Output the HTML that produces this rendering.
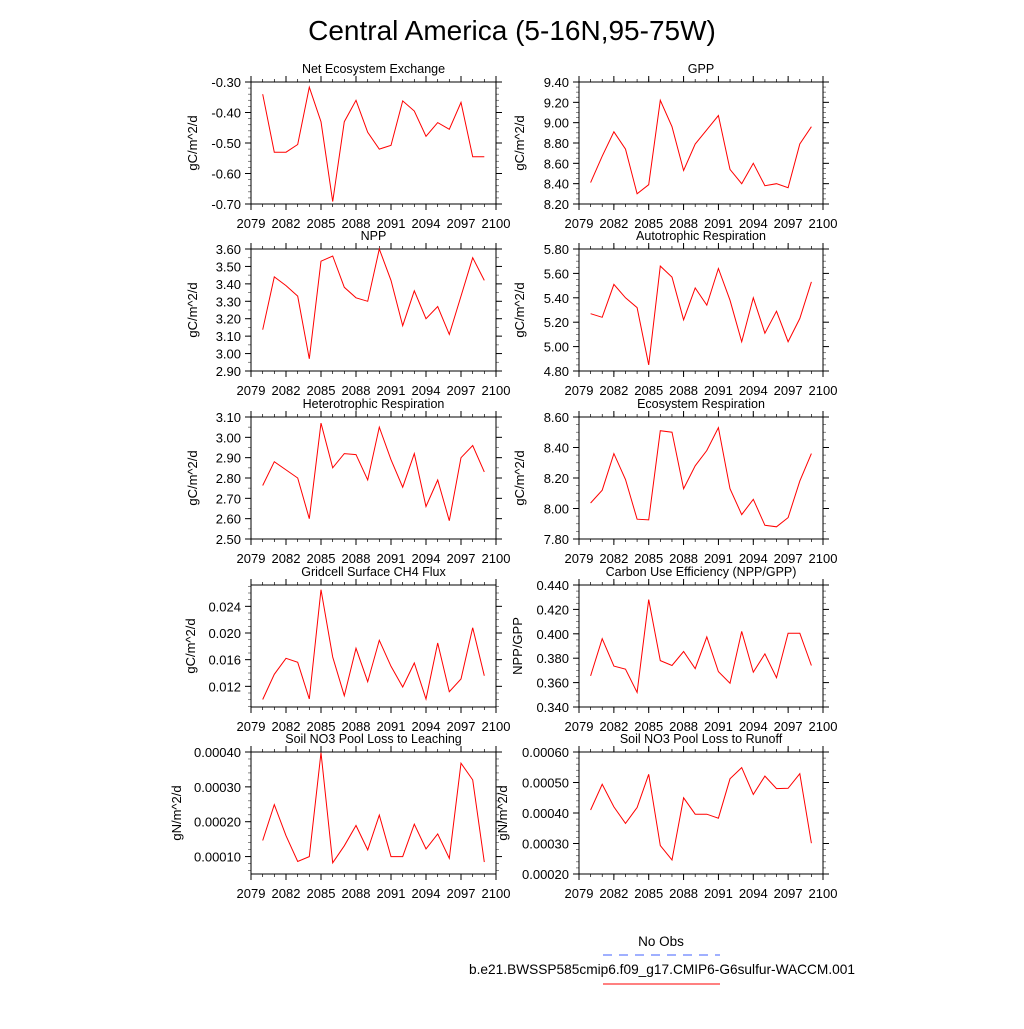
<!DOCTYPE html>
<html><head><meta charset="utf-8"><style>
body{margin:0;background:#fff}
svg text{font-family:"Liberation Sans",sans-serif;fill:#000}
</style></head><body>
<svg id="fig" width="1024" height="1024" viewBox="0 0 1024 1024" xmlns="http://www.w3.org/2000/svg">
<text x="512" y="40" font-size="28" text-anchor="middle">Central America (5-16N,95-75W)</text>
<g>
<text x="661" y="946" font-size="13.5" text-anchor="middle">No Obs</text>
<line x1="603" y1="955" x2="720" y2="955" stroke="#4060ff" stroke-width="1" stroke-dasharray="9,7"/>
<text x="662" y="974" font-size="13.7" text-anchor="middle">b.e21.BWSSP585cmip6.f09_g17.CMIP6-G6sulfur-WACCM.001</text>
<line x1="603" y1="984" x2="720" y2="984" stroke="#f00" stroke-width="1"/>
</g>
</svg>
<script>
const years=[2080,2081,2082,2083,2084,2085,2086,2087,2088,2089,2090,2091,2092,2093,2094,2095,2096,2097,2098,2099];
const xTicks=[2079,2082,2085,2088,2091,2094,2097,2100];
const neeVals=[-0.34,-0.53,-0.53,-0.505,-0.317,-0.43,-0.692,-0.43,-0.36,-0.465,-0.52,-0.508,-0.362,-0.395,-0.478,-0.433,-0.455,-0.367,-0.545,-0.545];
const gppVals=[8.41,8.67,8.91,8.74,8.30,8.39,9.22,8.96,8.53,8.79,8.93,9.07,8.54,8.40,8.60,8.38,8.40,8.36,8.79,8.96];
const nppVals=[3.137,3.44,3.39,3.33,2.97,3.53,3.56,3.38,3.32,3.30,3.60,3.42,3.16,3.36,3.20,3.27,3.11,3.33,3.55,3.42];
const arVals=[5.27,5.24,5.51,5.40,5.32,4.85,5.66,5.57,5.22,5.48,5.34,5.64,5.38,5.04,5.40,5.11,5.29,5.04,5.23,5.53];
const hrVals=[2.763,2.88,2.84,2.80,2.60,3.07,2.85,2.92,2.915,2.79,3.05,2.89,2.755,2.92,2.66,2.79,2.59,2.90,2.96,2.83];
const erVals=[8.036,8.12,8.36,8.19,7.93,7.925,8.51,8.50,8.13,8.28,8.38,8.53,8.13,7.96,8.06,7.89,7.88,7.94,8.18,8.36];
const ch4Vals=[0.01002,0.0138,0.0162,0.0156,0.0101,0.0265,0.0164,0.0106,0.0177,0.0127,0.0189,0.0150,0.0119,0.0155,0.0101,0.0185,0.0112,0.0131,0.0208,0.0136];
const cueVals=[0.3655,0.396,0.3735,0.371,0.352,0.428,0.378,0.374,0.3855,0.3715,0.3975,0.369,0.3595,0.402,0.3685,0.3835,0.364,0.4005,0.4005,0.374];
const leachVals=[0.000146,0.000249,0.00016,0.000086,0.0001,0.000398,0.000082,0.000131,0.000189,0.000119,0.000219,0.0001,0.0001,0.000193,0.000122,0.000165,0.000095,0.000368,0.00032,0.000084];
const runoffVals=[0.00041,0.000494,0.00042,0.000366,0.000418,0.000527,0.000293,0.000246,0.00045,0.000396,0.000396,0.000383,0.000512,0.000549,0.000461,0.000521,0.00048,0.000481,0.000529,0.000301];
const nee_ticks=[-0.70,-0.60,-0.50,-0.40,-0.30];
const gpp_ticks=[8.20,8.40,8.60,8.80,9.00,9.20,9.40];
const npp_ticks=[2.90,3.00,3.10,3.20,3.30,3.40,3.50,3.60];
const ar_ticks=[4.80,5.00,5.20,5.40,5.60,5.80];
const hr_ticks=[2.50,2.60,2.70,2.80,2.90,3.00,3.10];
const er_ticks=[7.80,8.00,8.20,8.40,8.60];
const ch4_ticks=[0.012,0.016,0.020,0.024];
const cue_ticks=[0.340,0.360,0.380,0.400,0.420,0.440];
const leach_ticks=[0.00010,0.00020,0.00030,0.00040];
const runoff_ticks=[0.00020,0.00030,0.00040,0.00050,0.00060];

const NS='http://www.w3.org/2000/svg';
const svg=document.getElementById('fig');
function mk(tag,attrs,parent){const e=document.createElementNS(NS,tag);for(const k in attrs)e.setAttribute(k,attrs[k]);parent.appendChild(e);return e;}
const rowsY=[82,249,417,585,752];
const colsX=[[251,496],[579,823]];
const H=122;
const panels=[
 {n:'nee',t:'Net Ecosystem Exchange',d:neeVals,tk:nee_ticks,mn:-0.70,mx:-0.30,dec:2,yt:'gC/m^2/d',ytx:197,minor:5},
 {n:'gpp',t:'GPP',d:gppVals,tk:gpp_ticks,mn:8.20,mx:9.40,dec:2,yt:'gC/m^2/d',ytx:524,minor:4},
 {n:'npp',t:'NPP',d:nppVals,tk:npp_ticks,mn:2.90,mx:3.60,dec:2,yt:'gC/m^2/d',ytx:197,minor:2},
 {n:'ar',t:'Autotrophic Respiration',d:arVals,tk:ar_ticks,mn:4.80,mx:5.80,dec:2,yt:'gC/m^2/d',ytx:524,minor:4},
 {n:'hr',t:'Heterotrophic Respiration',d:hrVals,tk:hr_ticks,mn:2.50,mx:3.10,dec:2,yt:'gC/m^2/d',ytx:197,minor:2},
 {n:'er',t:'Ecosystem Respiration',d:erVals,tk:er_ticks,mn:7.80,mx:8.60,dec:2,yt:'gC/m^2/d',ytx:524,minor:4},
 {n:'ch4',t:'Gridcell Surface CH4 Flux',d:ch4Vals,tk:ch4_ticks,mn:0.0089,mx:0.0272,dec:3,yt:'gC/m^2/d',ytx:195,minor:4},
 {n:'cue',t:'Carbon Use Efficiency (NPP/GPP)',d:cueVals,tk:cue_ticks,mn:0.340,mx:0.440,dec:3,yt:'NPP/GPP',ytx:522,minor:4},
 {n:'leach',t:'Soil NO3 Pool Loss to Leaching',d:leachVals,tk:leach_ticks,mn:0.00005,mx:0.00040,dec:5,yt:'gN/m^2/d',ytx:181,minor:5},
 {n:'runoff',t:'Soil NO3 Pool Loss to Runoff',d:runoffVals,tk:runoff_ticks,mn:0.00020,mx:0.00060,dec:5,yt:'gN/m^2/d',ytx:507,minor:5}
];
panels.forEach((p,i)=>{
 const r=Math.floor(i/2),c=i%2;
 const top=rowsY[r],bot=top+H,L=colsX[c][0],R=colsX[c][1];
 const xs=v=>L+(v-2079)/(2100-2079)*(R-L);
 const ys=v=>bot-(v-p.mn)/(p.mx-p.mn)*H;
 const g=mk('g',{},svg);
 
 
 const tt=mk('text',{x:(L+R)/2,y:top-9,'font-size':12.5,'text-anchor':'middle'},g);tt.textContent=p.t;
 
 
 for(let y=2079;y<=2100;y++){
  mk('line',{x1:xs(y),x2:xs(y),y1:bot,y2:bot+3,stroke:'#000','stroke-width':0.7},g);
  mk('line',{x1:xs(y),x2:xs(y),y1:top,y2:top-3,stroke:'#000','stroke-width':0.7},g);
 }
 xTicks.forEach(v=>{
  mk('line',{x1:xs(v),x2:xs(v),y1:bot,y2:bot+6,stroke:'#000','stroke-width':1},g);
  mk('line',{x1:xs(v),x2:xs(v),y1:top,y2:top-6,stroke:'#000','stroke-width':1},g);
  const t=mk('text',{x:xs(v),y:bot+24,'font-size':13,'text-anchor':'middle'},g);t.textContent=v;
  
  
 });
 const step=p.tk[1]-p.tk[0];
 const ms=step/p.minor;
 for(let v=p.tk[0]-step;v<=p.mx+1e-12;v+=ms){
  if(v<p.mn-1e-12)continue;
  mk('line',{x1:L,x2:L-3,y1:ys(v),y2:ys(v),stroke:'#555','stroke-width':0.7},g);
  mk('line',{x1:R,x2:R+3,y1:ys(v),y2:ys(v),stroke:'#555','stroke-width':0.7},g);
 }
 p.tk.forEach(v=>{
  mk('line',{x1:L-6,x2:L,y1:ys(v),y2:ys(v),stroke:'#000','stroke-width':1},g);
  mk('line',{x1:R,x2:R+6,y1:ys(v),y2:ys(v),stroke:'#000','stroke-width':1},g);
  const t=mk('text',{x:L-10,y:ys(v)+5,'font-size':13,'text-anchor':'end'},g);t.textContent=v.toFixed(p.dec);
  
  
 });
 const fr=mk('rect',{x:L,y:top,width:R-L,height:H,fill:'none',stroke:'#000','stroke-width':1},g);
 
 
 const cy=(top+bot)/2;
 const yt=mk('text',{x:p.ytx,y:cy,'font-size':13,'text-anchor':'middle',transform:`rotate(-90 ${p.ytx} ${cy})`},g);yt.textContent=p.yt;
 
 
 const pts=p.d.map((v,k)=>xs(years[k]).toFixed(1)+','+ys(v).toFixed(1)).join(' ');
 const pl=mk('polyline',{points:pts,fill:'none',stroke:'#f00','stroke-width':1},g);
 
 
});
</script>
</body></html>
